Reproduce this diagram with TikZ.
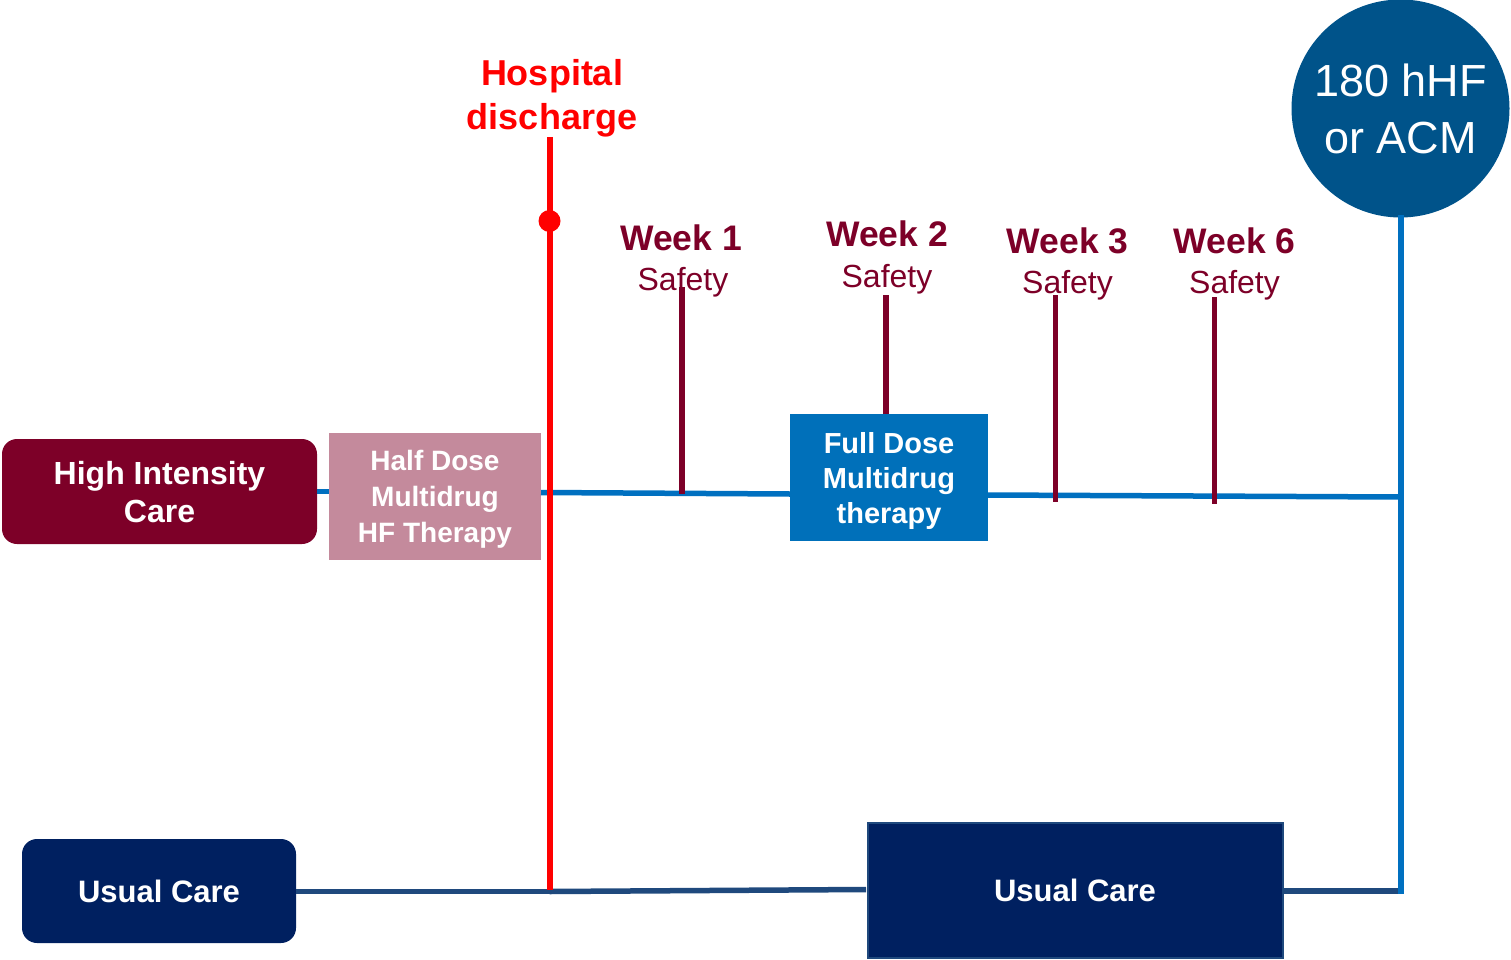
\documentclass[tikz,border=0pt]{standalone}
\usepackage{fontspec}
\setmainfont{Liberation Sans}
\definecolor{maroon}{HTML}{7D0028}
\definecolor{halfpink}{HTML}{C48A9C}
\definecolor{fullblue}{HTML}{0070BA}
\definecolor{lineblue}{HTML}{0070C0}
\definecolor{circblue}{HTML}{00538A}
\definecolor{navy}{HTML}{002060}
\definecolor{navyline}{HTML}{1F497D}
\definecolor{hred}{HTML}{FF0000}
\tikzset{
  boxbase/.style={inner sep=0pt, text=white, align=center, text depth=0pt},
  weektxt/.style={anchor=base, inner sep=0pt, text=maroon, font={\fontsize{35.5}{40}\selectfont\bfseries}},
  safetytxt/.style={anchor=base, inner sep=0pt, text=maroon, font={\fontsize{32}{36}\selectfont}},
  maroonline/.style={draw=maroon, line width=5.5pt},
  blueline/.style={draw=lineblue, line width=5.5pt},
  navyconn/.style={draw=navyline, line width=5.5pt},
  redline/.style={draw=hred, line width=6pt},
}
\begin{document}
\begin{tikzpicture}[x=1pt,y=-1pt]
\useasboundingbox (0,0) rectangle (1511,960);

% coordinates
\coordinate (redtop) at (549.5,137);
\coordinate (redbot) at (549.5,890);
\coordinate (bluetop) at (1400.5,215);
\coordinate (bluebot) at (1400.5,894);
\coordinate (bl1) at (541,492.5);
\coordinate (bl2) at (790,494);
\coordinate (bl3) at (988,495);
\coordinate (bl4) at (1400.5,497);
\coordinate (t1) at (682,287);
\coordinate (b1) at (682,494);
\coordinate (t2) at (886,295);
\coordinate (t3) at (1055.5,295);
\coordinate (b3) at (1055.5,502);
\coordinate (t6) at (1214.5,297);
\coordinate (b6) at (1214.5,504);
\coordinate (nl1) at (549.5,891.5);
\coordinate (nl2) at (866,889.5);
\coordinate (nl3) at (1283,891);
\coordinate (nl4) at (1400.5,891);

% boxes
\node[boxbase, fill=maroon, rounded corners=15, minimum width=315, minimum height=105,
      font={\fontsize{32}{38}\selectfont\bfseries}] (hic) at (159.5,491.5) {High Intensity\\Care};
\node[boxbase, fill=halfpink, minimum width=212, minimum height=127,
      font={\fontsize{28}{36}\selectfont\bfseries}] (half) at (435,496.3) {Half Dose\\Multidrug\\HF Therapy};
\node[boxbase, fill=fullblue, minimum width=198, minimum height=127,
      font={\fontsize{29}{35}\selectfont\bfseries}] (full) at (889,477.5) {Full Dose\\Multidrug\\therapy};
\node[boxbase, fill=navy, rounded corners=15, minimum width=274, minimum height=104,
      font={\fontsize{31}{36}\selectfont\bfseries}] (uc1) at (159,891) {Usual Care};
\node[boxbase, fill=navy, draw=navyline, line width=2pt, minimum width=415, minimum height=135,
      font={\fontsize{31}{36}\selectfont\bfseries}] (uc2) at (1075,890.5) {Usual Care};
\node[boxbase, circle, fill=circblue, minimum size=218,
      font={\fontsize{45}{57}\selectfont}] (goal) at (1400.5,108.5) {180 hHF\\or ACM};

% connectors
\draw[blueline] (hic.east) -- (hic.east -| half.west);
\draw[blueline] (bl1) -- (bl2);
\draw[blueline] (bl3) -- (bl4);
\draw[navyconn] (uc1.east |- nl1) -- (nl1);
\draw[navyconn] (nl1) -- (nl2);
\draw[navyconn] (nl3) -- (nl4);
\draw[redline] (redtop) -- (redbot);
\draw[blueline, line width=6pt] (bluetop) -- (bluebot);

% hospital discharge
\node[inner sep=0pt, align=center, text=hred, text depth=0pt,
      font={\fontsize{36}{44}\selectfont\bfseries}] (hd) at (552,94) {Hospital\\discharge};
\node[circle, fill=hred, inner sep=0pt, minimum size=22] (dot) at (549.5,221) {};

% week labels
\node[weektxt] (w1) at (681,250) {Week 1};
\node[safetytxt] (s1) at (683,290.7) {Safety};
\node[weektxt] (w2) at (887,246.7) {Week 2};
\node[safetytxt] (s2) at (887,287) {Safety};
\node[weektxt] (w3) at (1067.5,253.3) {Week 3};
\node[safetytxt] (s3) at (1067.5,293) {Safety};
\node[weektxt] (w6) at (1234.5,253.3) {Week 6};
\node[safetytxt] (s6) at (1234.5,293) {Safety};

% week markers
\draw[maroonline] (t1) -- (b1);
\draw[maroonline] (t2) -- (full.north -| t2);
\draw[maroonline] (t3) -- (b3);
\draw[maroonline] (t6) -- (b6);
\end{tikzpicture}
\end{document}
